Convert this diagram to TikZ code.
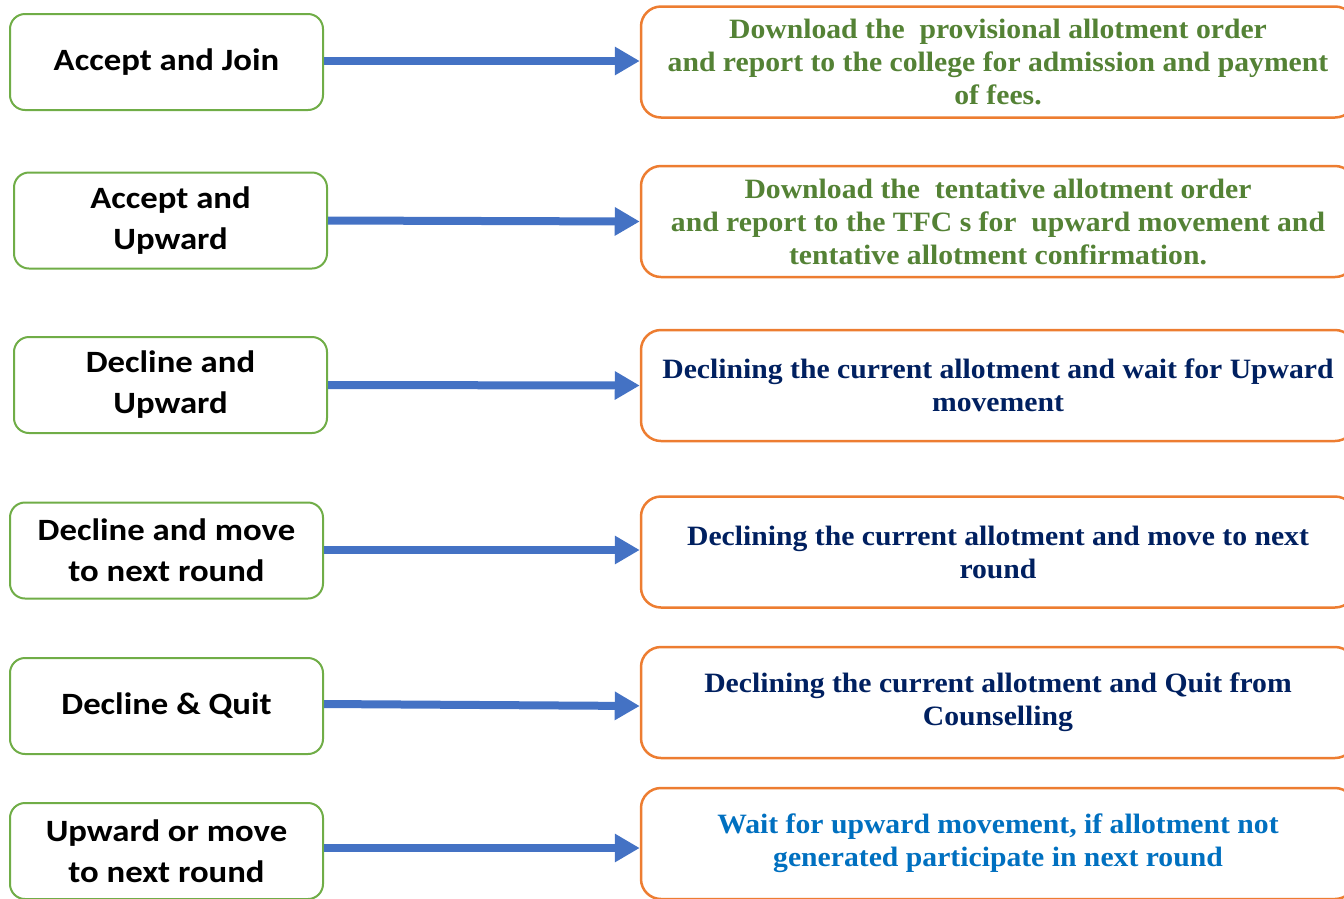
\documentclass[tikz,border=0pt]{standalone}
\usepackage{fontspec}
\setmainfont[FakeStretch=1.06]{Liberation Serif}
\newfontfamily\leftfont[FakeStretch=1.12]{Carlito}
\usetikzlibrary{arrows.meta}
\definecolor{boxgreen}{HTML}{70AD47}
\definecolor{boxorange}{HTML}{ED7D31}
\definecolor{arrblue}{HTML}{4472C4}
\definecolor{txtgreen}{HTML}{548235}
\definecolor{txtnavy}{HTML}{002060}
\definecolor{txtblue}{HTML}{0070C0}
\tikzset{
  lbox/.style={draw=boxgreen, line width=2pt, rounded corners=15pt, fill=white,
    minimum width=313pt, minimum height=96pt, align=center,
    font=\leftfont\bfseries\fontsize{31}{41}\selectfont, text=black, inner sep=0pt},
  rbox/.style={draw=boxorange, line width=2.5pt, rounded corners=20pt, fill=white,
    minimum width=714pt, minimum height=111pt, align=center,
    font=\bfseries\fontsize{28}{33}\selectfont, inner sep=0pt},
  conn/.style={draw=arrblue, line width=8pt, -{Triangle[length=25pt,width=27pt]}}
}
\begin{document}
\begin{tikzpicture}[x=1pt,y=-1pt]
\useasboundingbox (0,0) rectangle (1344,898);
\clip (0,0) rectangle (1344,898);
\node[lbox] (l1) at (166.5,62) {Accept and Join};
\node[lbox] (l2) at (170.5,220.5) {Accept and\\Upward};
\node[lbox] (l3) at (170.5,385) {Decline and\\Upward};
\node[lbox] (l4) at (166.5,550.5) {Decline and move\\to next round};
\node[lbox] (l5) at (166.5,706) {Decline \& Quit};
\node[lbox] (l6) at (166.5,851) {Upward or move\\to next round};

\node[rbox, text=txtgreen] (r1) at (998,62) {Download the \ provisional allotment order\\and report to the college for admission and payment\\of fees.};
\node[rbox, text=txtgreen] (r2) at (998,221.5) {Download the \ tentative allotment order\\and report to the TFC s for \ upward movement and\\tentative allotment confirmation.};
\node[rbox, text=txtnavy] (r3) at (998,385.5) {Declining the current allotment and wait for Upward\\movement};
\node[rbox, text=txtnavy] (r4) at (998,552) {Declining the current allotment and move to next\\round};
\node[rbox, text=txtnavy] (r5) at (998,702.5) {Declining the current allotment and Quit from\\Counselling};
\node[rbox, text=txtblue] (r6) at (998,843.5) {Wait for upward movement, if allotment not\\generated participate in next round};

\draw[conn] ([yshift=1pt]l1.east) -- ([yshift=1pt]r1.west);
\draw[conn] (l2.east) -- (r2.west);
\draw[conn] (l3.east) -- (r3.west);
\draw[conn] ([yshift=0.5pt]l4.east) -- ([yshift=2pt]r4.west);
\draw[conn] ([yshift=2pt]l5.east) -- ([yshift=-3.5pt]r5.west);
\draw[conn] ([yshift=3pt]l6.east) -- ([yshift=-4.5pt]r6.west);
\end{tikzpicture}
\end{document}
